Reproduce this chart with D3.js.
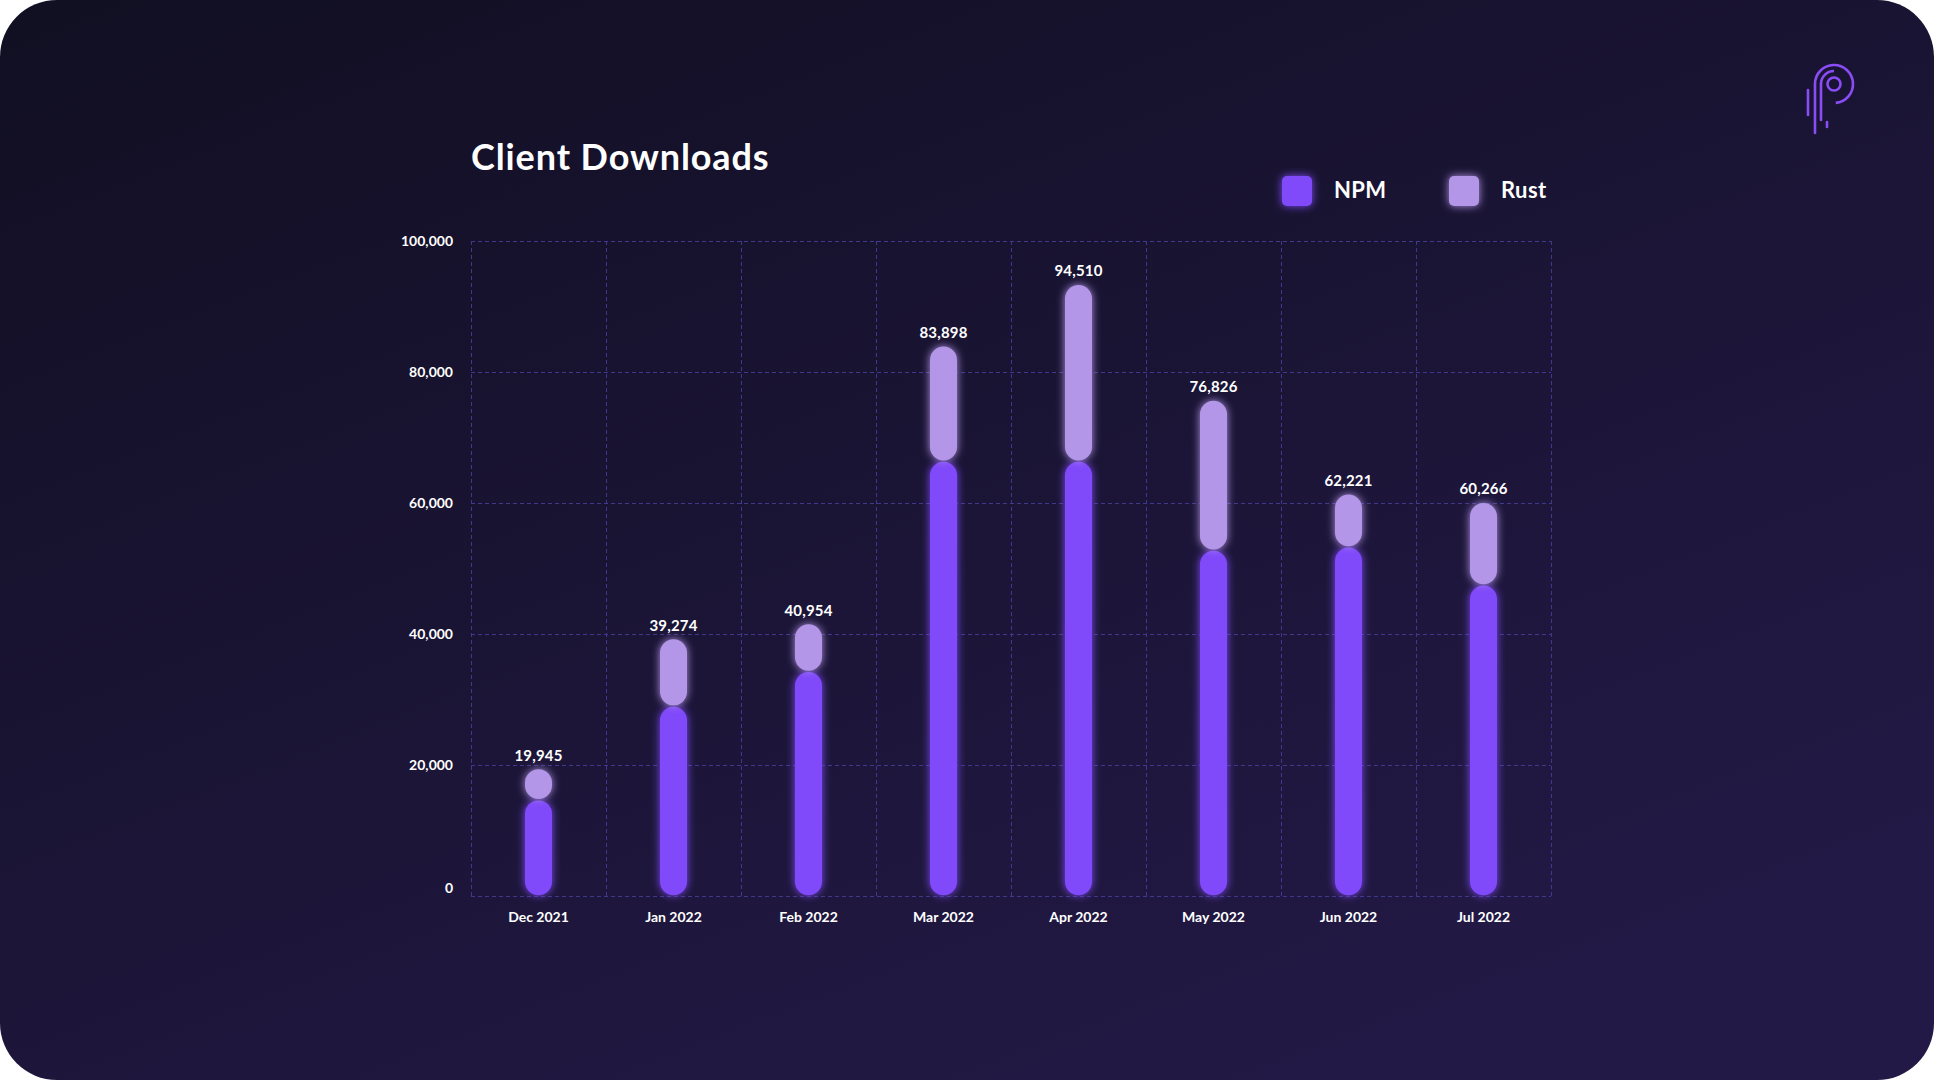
<!DOCTYPE html>
<html>
<head>
<meta charset="utf-8">
<script src="https://cdn.jsdelivr.net/npm/d3@7"></script>
<style>
  body { margin: 0; background: #ffffff; }
  text { font-family: Lato, "Open Sans", sans-serif; font-weight: 700; fill: #ffffff; }
</style>
</head>
<body>
<div id="chart"></div>
<script>
// monthly client downloads, split by package source
var months = ['Dec 2021', 'Jan 2022', 'Feb 2022', 'Mar 2022', 'Apr 2022', 'May 2022', 'Jun 2022', 'Jul 2022'];
var npm = [14700, 29000, 34300, 66400, 66400, 52800, 53300, 47500];
var rust = [4750, 10300, 7300, 17600, 27000, 22900, 8100, 12600];
var totals = [19945, 39274, 40954, 83898, 94510, 76826, 62221, 60266];
var yTicks = [0, 20000, 40000, 60000, 80000, 100000];
var seriesNames = ['NPM', 'Rust'];
var seriesColors = ['#8049fa', '#b396e8'];

var width = 1934,
    height = 1080;

var svg = d3.select('#chart').append('svg')
    .attr('width', width)
    .attr('height', height);

var defs = svg.append('defs');

var bg = defs.append('linearGradient')
    .attr('id', 'bg')
    .attr('x1', '0%').attr('y1', '0%')
    .attr('x2', '70%').attr('y2', '100%');
bg.append('stop').attr('offset', '0%').attr('stop-color', '#110f22');
bg.append('stop').attr('offset', '100%').attr('stop-color', '#231946');

// soft glow round every bar piece
var glow = defs.append('filter')
    .attr('id', 'glow')
    .attr('x', '-60%').attr('y', '-60%')
    .attr('width', '220%').attr('height', '220%');
glow.append('feGaussianBlur')
    .attr('in', 'SourceGraphic')
    .attr('stdDeviation', 4)
    .attr('result', 'blur');
var merge = glow.append('feMerge');
merge.append('feMergeNode').attr('in', 'blur');
merge.append('feMergeNode').attr('in', 'SourceGraphic');

svg.append('rect')
    .attr('width', width)
    .attr('height', height)
    .attr('rx', 57)
    .attr('fill', 'url(#bg)');

var x = d3.scaleBand()
    .domain(months)
    .range([471, 1551]);

var y = d3.scaleLinear()
    .domain([0, 100000])
    .range([896, 241]);

// grid
var grid = svg.append('g')
    .attr('stroke', '#40388c')
    .attr('stroke-width', 1)
    .attr('stroke-dasharray', '4,3');

grid.selectAll('.hline')
    .data(yTicks)
    .enter().append('line')
    .attr('class', 'hline')
    .attr('x1', x.range()[0])
    .attr('x2', x.range()[1])
    .attr('y1', function(d) { return y(d) + 0.5; })
    .attr('y2', function(d) { return y(d) + 0.5; });

var edges = months.map(function(m) { return x(m); }).concat([x.range()[1]]);
grid.selectAll('.vline')
    .data(edges)
    .enter().append('line')
    .attr('class', 'vline')
    .attr('x1', function(d) { return Math.round(d) + 0.5; })
    .attr('x2', function(d) { return Math.round(d) + 0.5; })
    .attr('y1', y(100000))
    .attr('y2', y(0));

// y labels (the zero label sits a little above its line)
svg.append('g').selectAll('text')
    .data(yTicks)
    .enter().append('text')
    .attr('x', 453)
    .attr('y', function(d) { return y(d) + (d === 0 ? -3 : 5); })
    .attr('text-anchor', 'end')
    .style('font-size', '14px')
    .text(function(d) { return d3.format(',')(d); });

// x labels
svg.append('g').selectAll('text')
    .data(months)
    .enter().append('text')
    .attr('x', function(d) { return x(d) + x.bandwidth() / 2; })
    .attr('y', 922)
    .attr('text-anchor', 'middle')
    .style('font-size', '14px')
    .text(function(d) { return d; });

// stacked bars
var rows = months.map(function(m, i) { return { month: m, NPM: npm[i], Rust: rust[i] }; });
var stacked = d3.stack().keys(seriesNames)(rows);
var barW = 27;

var layers = svg.append('g').selectAll('g')
    .data(stacked)
    .enter().append('g')
    .attr('fill', function(d, i) { return seriesColors[i]; })
    .attr('filter', 'url(#glow)');

layers.selectAll('rect')
    .data(function(d) { return d; })
    .enter().append('rect')
    .attr('x', function(d) { return x(d.data.month) + x.bandwidth() / 2 - barW / 2; })
    .attr('width', barW)
    .attr('y', function(d) { return y(d[1]) + 0.7; })
    .attr('height', function(d) { return Math.max(0, y(d[0]) - y(d[1]) - 1.4); })
    .attr('rx', barW / 2)
    .attr('ry', barW / 2);

// totals above bars
var topLayer = stacked[stacked.length - 1];
svg.append('g').selectAll('text')
    .data(months)
    .enter().append('text')
    .attr('x', function(d) { return x(d) + x.bandwidth() / 2; })
    .attr('y', function(d, i) { return y(topLayer[i][1]) - 8; })
    .attr('text-anchor', 'middle')
    .style('font-size', '15px')
    .style('letter-spacing', '0.2px')
    .text(function(d, i) { return d3.format(',')(totals[i]); });

// title
svg.append('text')
    .attr('x', 471)
    .attr('y', 170)
    .style('font-size', '36px')
    .style('letter-spacing', '0.9px')
    .text('Client Downloads');

// legend
var legendX = [1282, 1449];
var legend = svg.append('g').selectAll('g')
    .data(seriesNames)
    .enter().append('g')
    .attr('transform', function(d, i) { return 'translate(' + legendX[i] + ',176)'; });

legend.append('rect')
    .attr('width', 30)
    .attr('height', 30)
    .attr('rx', 5)
    .attr('fill', function(d, i) { return seriesColors[i]; })
    .attr('filter', 'url(#glow)');

legend.append('text')
    .attr('x', 52)
    .attr('y', 22)
    .style('font-size', '22px')
    .style('letter-spacing', '0.4px')
    .text(function(d) { return d; });

// logo in the top right corner
var logo = svg.append('g')
    .attr('fill', 'none')
    .attr('stroke', '#8a4cf5')
    .attr('stroke-width', 2.6)
    .attr('stroke-linecap', 'round');

var cx = 1834, cy = 84;
logo.append('path')
    .attr('d', d3.arc()({ innerRadius: 19, outerRadius: 19, startAngle: -Math.PI / 2, endAngle: Math.PI * 0.97 }))
    .attr('transform', 'translate(' + cx + ',' + cy + ')');
logo.append('path')
    .attr('d', d3.arc()({ innerRadius: 13, outerRadius: 13, startAngle: -Math.PI / 2, endAngle: 0 }))
    .attr('transform', 'translate(' + cx + ',' + cy + ')');
logo.append('circle')
    .attr('cx', cx)
    .attr('cy', cy)
    .attr('r', 6.5);
logo.append('line').attr('x1', 1815).attr('y1', cy).attr('x2', 1815).attr('y2', 133);
logo.append('line').attr('x1', 1821).attr('y1', cy).attr('x2', 1821).attr('y2', 120);
logo.append('line').attr('x1', 1808).attr('y1', 90).attr('x2', 1808).attr('y2', 115);
logo.append('line').attr('x1', 1827).attr('y1', 122).attr('x2', 1827).attr('y2', 127);
</script>
</body>
</html>
